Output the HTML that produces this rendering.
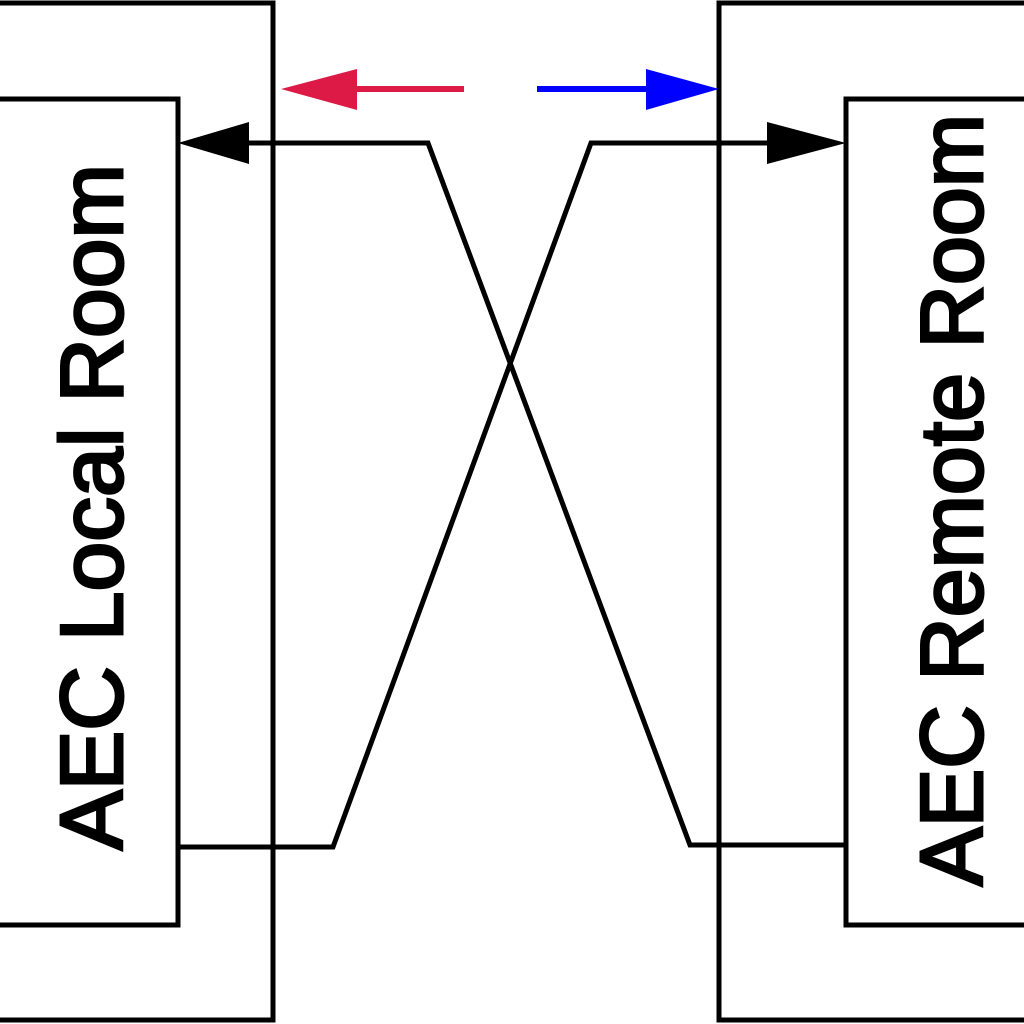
<!DOCTYPE html>
<html><head><meta charset="utf-8"><style>html,body{margin:0;padding:0;background:#fff}svg{display:block}</style></head>
<body>
<svg width="1024" height="1024" viewBox="0 0 1024 1024" xmlns="http://www.w3.org/2000/svg">
<g fill="none" stroke="#000" stroke-width="5">
<polyline points="-10,3 273,3 273,1020 -10,1020"/>
<polyline points="1034,3 719,3 719,1020 1034,1020"/>
<polyline points="-10,99 178,99 178,925 -10,925"/>
<polyline points="1034,99 846,99 846,925 1034,925"/>
<polyline points="240,143 428,143 690,845 846,845"/>
<polyline points="178,847 333,847 591,143 775,143"/>
</g>
<polygon points="178,143 249,122 249,164" fill="#000"/>
<polygon points="846,143 767,122 767,164" fill="#000"/>
<line x1="357" y1="89" x2="464" y2="89" stroke="#dc1a45" stroke-width="6"/>
<polygon points="281,89 357,69 357,110" fill="#dc1a45"/>
<line x1="537" y1="89" x2="648" y2="89" stroke="#0000ff" stroke-width="6"/>
<polygon points="719,89 646,69 646,110" fill="#0000ff"/>
<text transform="translate(122,507) rotate(-90)" text-anchor="middle" font-family="Liberation Sans, sans-serif" font-size="88" textLength="686" lengthAdjust="spacingAndGlyphs" fill="#000" stroke="#000" stroke-width="3">AEC Local Room</text>
<text transform="translate(982,500) rotate(-90)" text-anchor="middle" font-family="Liberation Sans, sans-serif" font-size="88" textLength="772" lengthAdjust="spacingAndGlyphs" fill="#000" stroke="#000" stroke-width="3">AEC Remote Room</text>
</svg>
</body></html>
